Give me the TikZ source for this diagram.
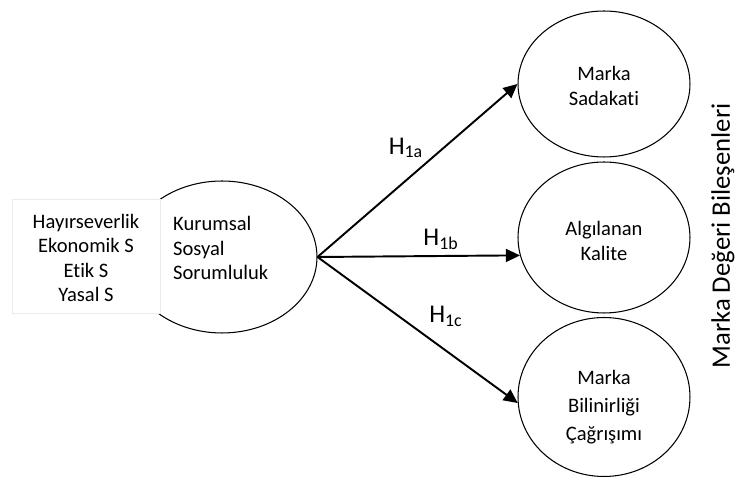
\documentclass[tikz,border=0pt]{standalone}
\usepackage{fontspec}
\setmainfont{Carlito}[Ligatures={NoCommon,NoRare}]
\usetikzlibrary{shapes.geometric,arrows.meta}
\tikzset{
  oval/.style={draw,ellipse,line width=0.6pt,inner sep=0pt,minimum width=3.44cm},
  hyp/.style={-{Triangle[length=0.28cm,width=0.26cm]},line width=1.1pt},
  txt/.style={font=\fontsize{11.7}{13.9}\selectfont,align=center},
  hlab/.style={font=\fontsize{14.5}{16}\selectfont}
}
\begin{document}
\begin{tikzpicture}[x=0.02cm,y=-0.02cm]
\useasboundingbox (0,0) rectangle (745,482);

\node[oval,minimum width=3.8cm,minimum height=3.04cm] (kss) at (222,257) {};
\node[draw=black!8,fill=white,minimum width=2.96cm,minimum height=2.28cm] (boyut) at (86,256) {};
\node[oval,minimum height=2.92cm] (ms) at (604,84) {};
\node[oval,minimum height=3.02cm] (ak) at (604,237.5) {};
\node[oval,minimum height=3.18cm] (mbc) at (604,397) {};

\node[txt] (boyuttxt) at (86,258) {Hayırseverlik\\Ekonomik S\\Etik S\\Yasal S};
\node[txt,align=left,anchor=west] (ksstxt) at (167,248) {Kurumsal\\Sosyal\\Sorumluluk};
\node[txt] (mstxt) at (604,86) {Marka\\Sadakati};
\node[txt] (aktxt) at (604,241) {Algılanan\\Kalite};
\node[txt,font=\fontsize{11.7}{15.8}\selectfont] (mbctxt) at (604,407) {Marka\\Bilinirliği\\Çağrışımı};

\draw[hyp] (kss.east) -- (ms.west);
\draw[hyp] (kss.east) -- (ak.192);
\draw[hyp] (kss.east) -- (mbc.184);

\node[hlab] (h1a) at (406,148) {H\textsubscript{1a}};
\node[hlab] (h1b) at (441,239) {H\textsubscript{1b}};
\node[hlab] (h1c) at (446,316) {H\textsubscript{1c}};

\node[rotate=90,font=\fontsize{15.2}{17}\selectfont] (bilesen) at (723,236) {Marka Değeri Bileşenleri};
\end{tikzpicture}
\end{document}
